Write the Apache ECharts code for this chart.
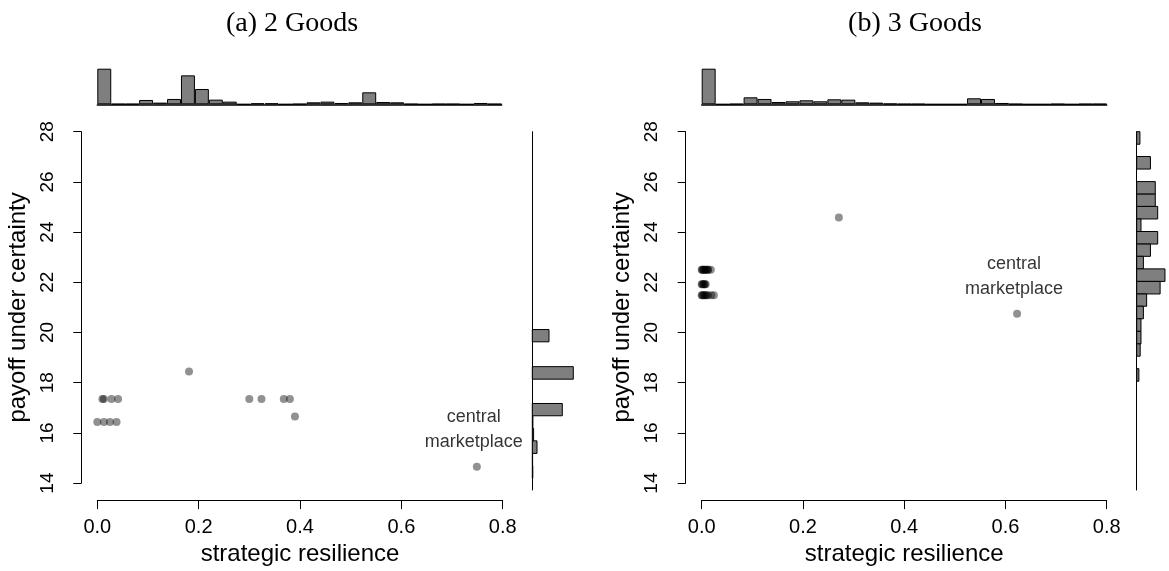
<!DOCTYPE html>
<html>
<head>
    <meta charset="utf-8">
    <title>Strategic resilience</title>
    <script src="https://cdn.jsdelivr.net/npm/echarts@6/dist/echarts.min.js"></script>
</head>
<body style="margin:0;background:#fff">
    <div id="main" style="width:1169px;height:571px;"></div>
    <script type="text/javascript">
        // scatter points [strategic resilience, payoff under certainty]
        var pointsA = [
            [0.181, 18.45],
            [0.010, 17.35], [0.013, 17.35], [0.028, 17.35], [0.041, 17.35],
            [0.300, 17.35], [0.324, 17.35], [0.368, 17.35], [0.380, 17.35],
            [0.000, 16.43], [0.013, 16.43], [0.025, 16.43], [0.038, 16.43],
            [0.390, 16.65]
        ];
        var marketA = [[0.749, 14.65]];

        var pointsB = [
            [0.271, 24.58],
            [0.000, 22.50], [0.001, 22.50], [0.003, 22.50], [0.004, 22.50], [0.006, 22.50],
            [0.008, 22.50], [0.010, 22.50], [0.012, 22.50], [0.013, 22.50], [0.018, 22.50],
            [0.000, 21.92], [0.001, 21.92], [0.003, 21.92], [0.005, 21.92], [0.006, 21.92], [0.008, 21.92],
            [0.000, 21.48], [0.001, 21.48], [0.003, 21.48], [0.005, 21.48], [0.007, 21.48],
            [0.010, 21.48], [0.012, 21.48], [0.019, 21.48], [0.024, 21.48]
        ];
        var marketB = [[0.623, 20.75]];

        // top marginal histograms (29 equal bins over strategic resilience)
        var topBins = [];
        for (var i = 0; i < 29; i++) topBins.push('b' + i);
        var topCountsA = [107, 1, 1, 13, 5, 16, 87, 46, 14, 8, 0, 3, 3, 0, 1, 6, 8, 4, 6, 36, 7, 6, 1, 0, 1, 1, 0, 4, 1];
        var topCountsB = [107, 0, 1, 21, 16, 7, 9, 12, 9, 15, 14, 6, 5, 2, 1, 1, 0, 0, 0, 18, 16, 4, 1, 0, 0, 1, 0, 1, 1];

        // side marginal histograms [bin low, bin high, count]
        var sideBinsA = [
            [19.79, 20.27, 16.7], [18.33, 18.82, 41], [16.90, 17.38, 30], [16.41, 16.90, 0.6],
            [15.92, 16.41, 1.3], [15.43, 15.92, 4.7], [14.95, 15.43, 0.3], [14.46, 14.95, 0.5]
        ];
        var sideBinsB = [
            [27.51, 28.00, 4], [26.54, 27.03, 17], [25.56, 26.05, 23], [25.08, 25.56, 23],
            [24.59, 25.08, 26], [24.10, 24.59, 5.3], [23.61, 24.10, 26], [23.13, 23.61, 17],
            [22.64, 23.13, 8.3], [22.15, 22.64, 35], [21.66, 22.15, 29], [21.18, 21.66, 12.3],
            [20.69, 21.18, 8.3], [20.20, 20.69, 5.3], [19.71, 20.20, 5.3], [19.23, 19.71, 4.3],
            [18.25, 18.74, 2.7]
        ];

        var yTicks = [14, 16, 18, 20, 22, 24, 26, 28];
        var xTicks = [0, 0.2, 0.4, 0.6, 0.8];

        var sans = 'Liberation Sans';
        var barFill = '#7f7f7f';
        var dotColor = 'rgba(0,0,0,0.54)';

        function scatterX(grid) {
            return {
                gridIndex: grid, type: 'value', min: xTicks[0], max: xTicks[xTicks.length - 1], interval: 0.2,
                offset: 17,
                name: 'strategic resilience', nameLocation: 'middle', nameGap: 33,
                nameTextStyle: { fontFamily: sans, fontSize: 24, color: '#000' },
                axisLine: { onZero: false, lineStyle: { color: '#000', width: 1 } },
                axisTick: { length: 9, lineStyle: { color: '#000' } },
                axisLabel: { margin: 17, fontFamily: sans, fontSize: 20, color: '#000',
                    formatter: function (v) { return v.toFixed(1); } },
                splitLine: { show: false }
            };
        }
        function scatterY(grid) {
            return {
                gridIndex: grid, type: 'value', min: yTicks[0], max: yTicks[yTicks.length - 1], interval: 2,
                offset: 16,
                name: 'payoff under certainty', nameLocation: 'middle', nameGap: 51,
                nameTextStyle: { fontFamily: sans, fontSize: 24, color: '#000' },
                axisLine: { onZero: false, lineStyle: { color: '#000', width: 1 } },
                axisTick: { length: 8, lineStyle: { color: '#000' } },
                axisLabel: { margin: 24, rotate: 90, fontFamily: sans, fontSize: 19, color: '#000' },
                splitLine: { show: false }
            };
        }
        function topX(grid) {
            return {
                gridIndex: grid, type: 'category', data: topBins, boundaryGap: true,
                axisLine: { lineStyle: { color: '#000', width: 1.5 } },
                axisTick: { show: false }, axisLabel: { show: false }
            };
        }
        function topY(grid) {
            return { gridIndex: grid, type: 'value', min: 0, max: 107, show: false };
        }
        function sideX(grid, max) {
            return { gridIndex: grid, type: 'value', min: 0, max: max, show: false };
        }
        function sideY(grid) {
            return {
                gridIndex: grid, type: 'value', min: yTicks[0], max: yTicks[yTicks.length - 1],
                axisLine: { onZero: false, lineStyle: { color: '#000', width: 1 } },
                axisTick: { show: false }, axisLabel: { show: false }, splitLine: { show: false }
            };
        }
        function sideSeries(xi, data) {
            return {
                type: 'custom', xAxisIndex: xi, yAxisIndex: xi, data: data, clip: false,
                renderItem: function (params, api) {
                    var p1 = api.coord([0, api.value(1)]);
                    var p2 = api.coord([api.value(2), api.value(0)]);
                    return {
                        type: 'rect',
                        shape: { x: p1[0], y: p1[1], width: p2[0] - p1[0], height: p2[1] - p1[1] },
                        style: { fill: barFill, stroke: '#000', lineWidth: 1 }
                    };
                }
            };
        }
        function dotSeries(xi, data) {
            return {
                type: 'scatter', xAxisIndex: xi, yAxisIndex: xi, data: data, clip: false,
                symbolSize: 8, itemStyle: { color: dotColor }, silent: true
            };
        }
        function marketSeries(xi, data) {
            return {
                type: 'scatter', xAxisIndex: xi, yAxisIndex: xi, data: data, clip: false,
                symbolSize: 8, itemStyle: { color: dotColor }, silent: true,
                label: {
                    show: true, position: 'top', distance: 8, offset: [-3, 0],
                    formatter: 'central\nmarketplace', fontFamily: sans, fontSize: 18,
                    lineHeight: 25, color: '#000', align: 'center'
                }
            };
        }

        var myChart = echarts.init(document.getElementById('main'));
        var option = {
            animation: false,
            backgroundColor: '#fff',
            title: [
                { text: '(a) 2 Goods', left: 287, top: 5, textAlign: 'center',
                  textStyle: { fontFamily: 'Liberation Serif', fontSize: 28, fontWeight: 'normal', color: '#000' } },
                { text: '(b) 3 Goods', left: 910, top: 5, textAlign: 'center',
                  textStyle: { fontFamily: 'Liberation Serif', fontSize: 28, fontWeight: 'normal', color: '#000' } }
            ],
            grid: [
                { left: 97.3, top: 131.7, width: 405.4, height: 358.3 },
                { left: 97.3, top: 68.7, width: 404.4, height: 35.6 },
                { left: 532.3, top: 131.7, width: 50, height: 358.3 },
                { left: 701.7, top: 131.7, width: 405, height: 358.3 },
                { left: 701.7, top: 68.7, width: 405, height: 35.6 },
                { left: 1136.7, top: 131.7, width: 40, height: 358.3 }
            ],
            xAxis: [scatterX(0), topX(1), sideX(2, 50), scatterX(3), topX(4), sideX(5, 40)],
            yAxis: [scatterY(0), topY(1), sideY(2), scatterY(3), topY(4), sideY(5)],
            series: [
                dotSeries(0, pointsA),
                marketSeries(0, marketA),
                { type: 'bar', xAxisIndex: 1, yAxisIndex: 1, data: topCountsA, barCategoryGap: '0%',
                  itemStyle: { color: barFill, borderColor: '#000', borderWidth: 1 }, silent: true },
                sideSeries(2, sideBinsA),
                dotSeries(3, pointsB),
                marketSeries(3, marketB),
                { type: 'bar', xAxisIndex: 4, yAxisIndex: 4, data: topCountsB, barCategoryGap: '0%',
                  itemStyle: { color: barFill, borderColor: '#000', borderWidth: 1 }, silent: true },
                sideSeries(5, sideBinsB)
            ]
        };
        myChart.setOption(option);
    </script>
</body>
</html>
